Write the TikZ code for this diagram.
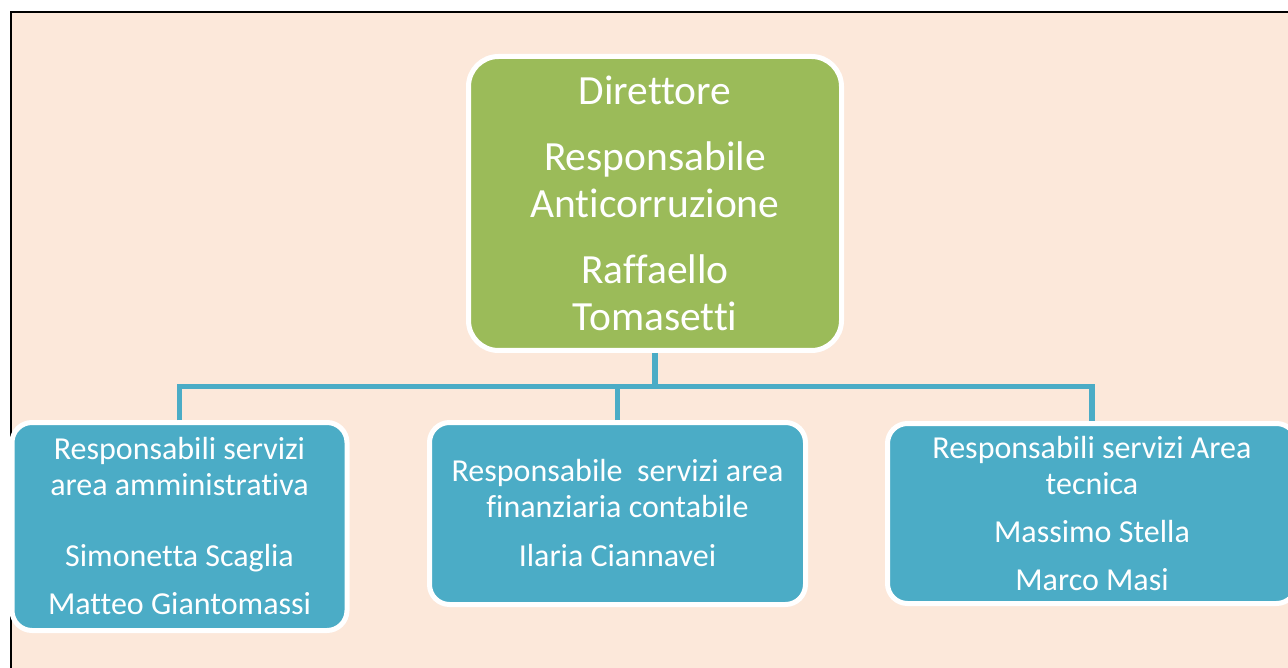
\documentclass[tikz,border=0pt]{standalone}
\usepackage{fontspec}
\setmainfont{Carlito}[Ligatures={NoCommon}]
\usetikzlibrary{positioning}

\definecolor{peach}{HTML}{FCE8DA}
\definecolor{leafgreen}{HTML}{9BBB59}
\definecolor{tealblue}{HTML}{4BACC6}

\begin{document}
\begin{tikzpicture}[x=1pt, y=-1pt,
  box/.style={draw=white, line width=5pt, text=white, align=center, inner sep=0pt},
  topbox/.style={box, fill=leafgreen, rounded corners=30pt, font=\fontsize{41.5}{47}\selectfont},
  unitbox/.style={box, fill=tealblue, rounded corners=20pt, font=\fontsize{32}{36}\selectfont},
  conn/.style={draw=tealblue, line width=5.5pt}]

  % Page and frame
  \clip (0,0) rectangle (1288,668);
  \fill[white] (0,0) rectangle (1288,668);
  \fill[peach] (11,12) rectangle (1288,668);
  \draw[black, line width=1.2pt] (11,668) -- (11,12) -- (1288,12);

  % Director box
  \node[topbox, minimum width=373pt, minimum height=294pt] (dir) at (655,203.5)
    {Direttore\\[19pt] Responsabile\\ Anticorruzione\\[19pt] Raffaello\\ Tomasetti};

  % Service area boxes
  \node[unitbox, minimum width=335pt, minimum height=208pt] (amm) at (179.5,526.5)
    {Responsabili servizi\\ area amministrativa\\[35pt] Simonetta Scaglia\\[12pt] Matteo Giantomassi};
  \node[unitbox, minimum width=376pt, minimum height=182pt] (fin) at (617.5,513.5)
    {Responsabile\ \ servizi area\\ finanziaria contabile\\[13pt] Ilaria Ciannavei};
  \node[unitbox, minimum width=409pt, minimum height=180pt] (tec) at (1092,513.5)
    {Responsabili servizi Area\\ tecnica\\[12pt] Massimo Stella\\[12pt] Marco Masi};

  % Connectors
  \coordinate (bus) at (655,386.5);
  \draw[conn] (dir.south) -- (bus);
  \draw[conn] (amm.north) |- (bus) -| (tec.north);
  \draw[conn] (fin.north) -- (fin.north |- bus);

\end{tikzpicture}
\end{document}
